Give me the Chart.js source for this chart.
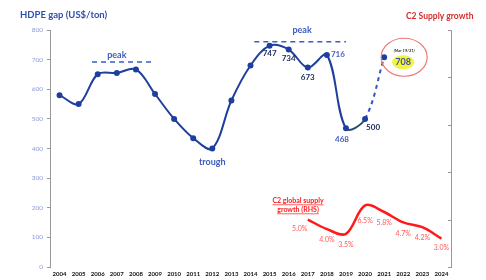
<!DOCTYPE html>
<html>
<head>
<meta charset="utf-8">
<script src="https://cdn.jsdelivr.net/npm/chart.js@4/dist/chart.umd.min.js"></script>
<style>
  html, body { margin: 0; padding: 0; background: #fff; }
  #wrap { width: 486px; height: 280px; position: relative; }
</style>
</head>
<body>
<div id="wrap"><canvas id="chart"></canvas></div>
<script>
const years = ["2004","2005","2006","2007","2008","2009","2010","2011","2012","2013","2014",
               "2015","2016","2017","2018","2019","2020","2021","2022","2023","2024"];
const hdpeGap = [580, 550, 651, 655, 667, 584, 500, 435, 400, 562, 680,
                 747, 734, 673, 716, 468, 500, 708, null, null, null];
const c2Growth = [null, null, null, null, null, null, null, null, null, null, null,
                  null, null, 5.0, 4.0, 3.5, 6.5, 5.8, 4.7, 4.2, 3.0];
const leftTicks = [0, 100, 200, 300, 400, 500, 600, 700, 800];
const rightTicks = [0, 5, 10, 15, 20, 25];
const gapLabels = ["747", "734", "673", "716", "468", "500"];
const gapLabelYears = ["2015", "2016", "2017", "2018", "2019", "2020"];

const FONT = "Lato, 'Open Sans', sans-serif";
const BLUE = "#1f3f9f";
const RED = "#ff1a1a";

const annotations = {
  id: "annotations",
  afterDatasetsDraw(chart) {
    const ctx = chart.ctx;
    const x = chart.scales.x, y = chart.scales.y, y2 = chart.scales.y2;
    ctx.save();

    // titles
    ctx.font = "bold 9.5px " + FONT;
    ctx.fillStyle = "#2d4fae";
    ctx.textBaseline = "middle";
    ctx.textAlign = "left";
    ctx.fillText("HDPE gap (US$/ton)", 20, 15);
    ctx.font = "bold 8.5px " + FONT;
    ctx.fillStyle = "#d42a2a";
    ctx.fillText("C2 Supply growth", 406, 16);

    // right axis ticks point inward
    ctx.strokeStyle = "#999";
    ctx.lineWidth = 1;
    ctx.beginPath();
    rightTicks.forEach(v => {
      const ty = Math.round(y2.getPixelForValue(v)) + 0.5;
      ctx.moveTo(y2.left - 3, ty);
      ctx.lineTo(y2.left, ty);
    });
    ctx.stroke();

    // peak markers
    ctx.strokeStyle = "#3a5cc0";
    ctx.lineWidth = 1.5;
    ctx.setLineDash([5, 4]);
    ctx.beginPath();
    ctx.moveTo(x.getPixelForValue(1.7), y.getPixelForValue(692));
    ctx.lineTo(x.getPixelForValue(5), y.getPixelForValue(692));
    ctx.moveTo(x.getPixelForValue(10.2), y.getPixelForValue(760));
    ctx.lineTo(x.getPixelForValue(15), y.getPixelForValue(760));
    ctx.stroke();
    ctx.setLineDash([]);
    ctx.font = "bold 9px " + FONT;
    ctx.fillStyle = "#3a5cc0";
    ctx.textAlign = "center";
    ctx.fillText("peak", x.getPixelForValue(3), y.getPixelForValue(714));
    ctx.fillText("peak", x.getPixelForValue(12.7), y.getPixelForValue(798));
    ctx.fillText("trough", x.getPixelForValue(8), y.getPixelForValue(355));

    // HDPE value labels
    const offs = [[0, 8], [0, 9], [0, 10], [11, 0], [-4, 11], [8, 9]];
    ctx.font = "bold 8px " + FONT;
    gapLabels.forEach((t, i) => {
      const idx = years.indexOf(gapLabelYears[i]);
      const px = x.getPixelForValue(idx) + offs[i][0];
      const py = y.getPixelForValue(hdpeGap[idx]) + offs[i][1];
      ctx.fillStyle = (i === 3 || i === 4) ? "#4a62c0" : "#1b2b5a";
      ctx.fillText(t, px, py);
    });

    // latest value callout
    const px = x.getPixelForValue(17), py = y.getPixelForValue(708);
    const lx = px + 20;
    ctx.strokeStyle = "#f07878";
    ctx.lineWidth = 1.2;
    ctx.beginPath();
    ctx.ellipse(lx, py, 23, 19, 0, 0, Math.PI * 2);
    ctx.stroke();
    ctx.fillStyle = "#f4f43c";
    ctx.beginPath();
    ctx.ellipse(lx - 1, py + 5, 11, 7, 0, 0, Math.PI * 2);
    ctx.fill();
    ctx.fillStyle = "#3a50a8";
    ctx.font = "bold 9px " + FONT;
    ctx.fillText("708", lx - 1, py + 5);
    ctx.fillStyle = "#333";
    ctx.font = "italic bold 4px " + FONT;
    ctx.fillText("(Mar 19/21)", lx, py - 7);

    // C2 labels
    ctx.font = "7px " + FONT;
    ctx.fillStyle = "#ff5a5a";
    c2Growth.forEach((v, i) => {
      if (v === null) return;
      let lpx = x.getPixelForValue(i), lpy = y2.getPixelForValue(v) + 11;
      if (i === 13) { lpx -= 8; lpy -= 2; }
      if (i === 16) { lpy += 4; }
      if (i === 20) { lpy -= 2; }
      ctx.fillText(v.toFixed(1) + "%", lpx, lpy);
    });

    // C2 series caption
    ctx.fillStyle = RED;
    ctx.font = "bold 7px " + FONT;
    const cx = 298;
    [["C2 global supply", 201], ["growth (RHS)", 210]].forEach(([t, ty]) => {
      ctx.fillText(t, cx, ty);
      const w = ctx.measureText(t).width;
      ctx.fillRect(cx - w / 2, ty + 3.5, w, 0.7);
    });

    ctx.restore();
  }
};

new Chart(document.getElementById("chart"), {
  type: "line",
  data: {
    labels: years,
    datasets: [
      {
        data: hdpeGap,
        yAxisID: "y",
        borderColor: BLUE,
        borderWidth: 2,
        tension: 0.35,
        pointRadius: 2,
        pointBackgroundColor: BLUE,
        pointBorderColor: BLUE,
        segment: {
          borderDash: c => c.p0DataIndex === 16 ? [4, 4] : undefined,
          borderColor: c => c.p0DataIndex === 15 ? "#2c4a6e" : (c.p0DataIndex === 16 ? "#2f56c0" : undefined)
        }
      },
      {
        data: c2Growth,
        yAxisID: "y2",
        borderColor: RED,
        borderWidth: 2.5,
        tension: 0.35,
        pointRadius: 0
      }
    ]
  },
  options: {
    responsive: true,
    maintainAspectRatio: false,
    animation: false,
    layout: { padding: { top: 30, left: 0, right: 0, bottom: 0 } },
    plugins: { legend: { display: false }, tooltip: { enabled: false } },
    scales: {
      x: {
        offset: true,
        grid: { display: false, drawTicks: false },
        border: { display: false },
        ticks: { color: "#111", font: { family: FONT, size: 6, weight: "bold" }, maxRotation: 0, autoSkip: false, padding: 3 },
        afterFit: s => { s.height = 13; }
      },
      y: {
        position: "left",
        min: 0, max: 800,
        afterBuildTicks: s => { s.ticks = leftTicks.map(v => ({ value: v })); },
        grid: { drawOnChartArea: false, tickLength: 3, color: "#999" },
        border: { color: "#999", width: 1 },
        ticks: { color: "#8c9cd8", font: { family: FONT, size: 6.5 }, padding: 4 },
        afterFit: s => { s.width = 50; }
      },
      y2: {
        position: "right",
        min: 0, max: 25,
        afterBuildTicks: s => { s.ticks = rightTicks.map(v => ({ value: v })); },
        grid: { display: false },
        border: { color: "#999", width: 1 },
        ticks: { display: false },
        afterFit: s => { s.width = 35; }
      }
    }
  },
  plugins: [annotations]
});
</script>
</body>
</html>
